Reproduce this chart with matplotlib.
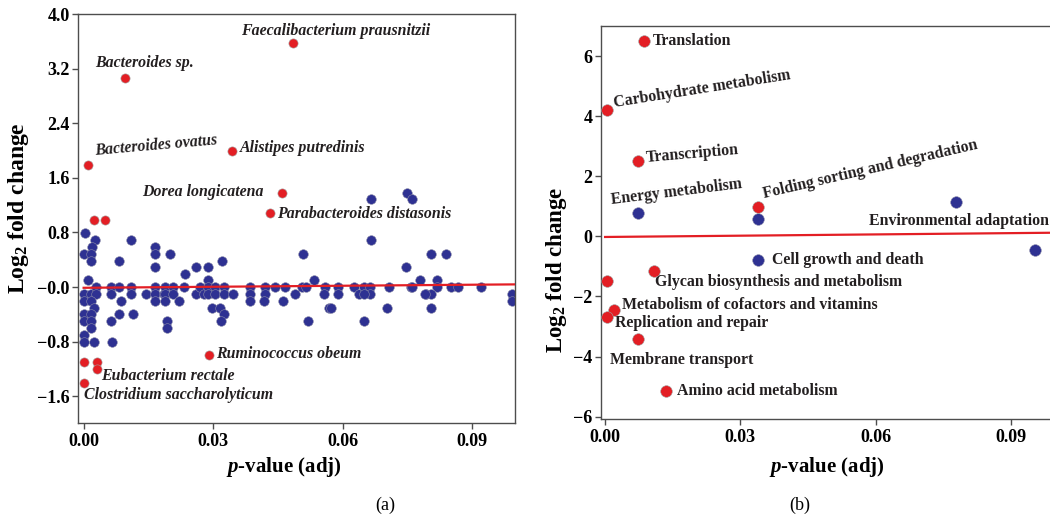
import matplotlib
matplotlib.use("Agg")
from matplotlib import pyplot as plt

plt.rcParams["font.family"] = ["Liberation Serif", "DejaVu Serif"]
plt.rcParams["mathtext.fontset"] = "custom"
plt.rcParams["mathtext.rm"] = "Liberation Serif:bold"
plt.rcParams["mathtext.it"] = "Liberation Serif:italic:bold"
plt.rcParams["mathtext.bf"] = "Liberation Serif:bold"

RED = "#e31e24"
BLUE = "#2e3192"

# ---- panel (a): species ----
blue_a_p = [0.0004, 0.0026, 0.0019, 0.0001, 0.0017, 0.0017, 0.0011, 0.0001, 0.0017, 0.0029,
            0.0029, 0.0001, 0.0017, 0.0025, 0.0001, 0.0017, 0.0001, 0.0017, 0.0017, 0.0001,
            0.0001, 0.0025, 0.0063, 0.0063, 0.0083, 0.0087, 0.0083, 0.0063, 0.0066, 0.0081,
            0.0110, 0.0110, 0.0110, 0.0114, 0.0145, 0.0166, 0.0166, 0.0166, 0.0166, 0.0166,
            0.0166, 0.0185, 0.0199, 0.0189, 0.0189, 0.0189, 0.0207, 0.0207, 0.0220, 0.0194,
            0.0194, 0.0235, 0.0233, 0.0261, 0.0289, 0.0289, 0.0320, 0.0261, 0.0270, 0.0278,
            0.0289, 0.0289, 0.0305, 0.0305, 0.0324, 0.0324, 0.0347, 0.0297, 0.0315, 0.0324,
            0.0318, 0.0507, 0.0386, 0.0386, 0.0386, 0.0421, 0.0421, 0.0417, 0.0444, 0.0467,
            0.0461, 0.0490, 0.0506, 0.0514, 0.0534, 0.0560, 0.0556, 0.0569, 0.0520, 0.0666,
            0.0748, 0.0761, 0.0666, 0.0746, 0.0780, 0.0589, 0.0589, 0.0626, 0.0637, 0.0649,
            0.0664, 0.0664, 0.0649, 0.0707, 0.0757, 0.0703, 0.0649, 0.0572, 0.0804, 0.0840,
            0.0819, 0.0819, 0.0792, 0.0804, 0.0804, 0.0850, 0.0866, 0.0920, 0.0992, 0.0992,
            0.0761, 0.0790]
blue_a_v = [0.79, 0.69, 0.59, 0.49, 0.49, 0.38, 0.10, -0.10, -0.10, 0.00,
            -0.10, -0.20, -0.20, -0.30, -0.39, -0.39, -0.50, -0.50, -0.60, -0.70,
            -0.80, -0.80, 0.00, -0.10, 0.00, -0.20, 0.38, -0.50, -0.80, -0.39,
            0.69, 0.00, -0.10, -0.39, -0.10, 0.59, 0.49, 0.30, 0.00, -0.10,
            -0.20, -0.10, 0.49, 0.00, -0.10, -0.20, 0.00, -0.10, -0.20, -0.50,
            -0.60, 0.19, 0.00, 0.30, 0.30, 0.10, 0.38, -0.10, 0.00, -0.10,
            0.00, -0.10, 0.00, -0.10, 0.00, -0.10, -0.10, -0.30, -0.30, -0.39,
            -0.50, 0.49, 0.00, -0.10, -0.20, 0.00, -0.10, -0.20, 0.00, 0.00,
            -0.20, -0.10, 0.00, 0.00, 0.10, 0.00, -0.10, -0.30, -0.50, 1.29,
            1.385, 1.29, 0.69, 0.30, 0.10, 0.00, -0.10, 0.00, -0.10, 0.00,
            0.00, -0.10, -0.10, 0.00, 0.00, -0.30, -0.50, -0.30, 0.49, 0.49,
            0.10, 0.00, -0.10, -0.10, -0.30, 0.00, 0.00, 0.00, -0.10, -0.20,
            0.00, -0.10]

red_a_p = [0.0485, 0.0096, 0.0009, 0.0343, 0.0459, 0.0432, 0.0024, 0.0049,
           0.0291, 0.0001, 0.0032, 0.0032, 0.0001]
red_a_v = [3.58, 3.07, 1.79, 1.99, 1.38, 1.09, 0.99, 0.99,
           -0.99, -1.10, -1.10, -1.20, -1.40]
red_a_names = ["Faecalibacterium prausnitzii", "Bacteroides sp.", "Bacteroides ovatus",
               "Alistipes putredinis", "Dorea longicatena", "Parabacteroides distasonis",
               "", "", "Ruminococcus obeum", "", "", "Eubacterium rectale",
               "Clostridium saccharolyticum"]
# label placement (offset in pixels, rotation, alignment)
red_a_lab = [(-52, -12, 0, "left"), (-30, -15, 0, "left"), (7, -14, 5, "left"),
             (8, -3, 0, "left"), (-18, -1, 0, "right"), (7, 1, 0, "left"),
             None, None, (7, -1, 0, "left"), None, None, (4, 7, 0, "left"),
             (0, 12, 0, "left")]

fit_a_p = [0.0, 0.0999]
fit_a_v = [-0.01, 0.04]

yticks_a = [4.0, 3.2, 2.4, 1.6, 0.8, 0.0, -0.8, -1.6]
ytick_labels_a = ["4.0", "3.2", "2.4", "1.6", "0.8", "\u22120.0", "\u22120.8", "\u22121.6"]
xticks = [0.0, 0.03, 0.06, 0.09]
xtick_labels = ["0.00", "0.03", "0.06", "0.09"]

# ---- panel (b): pathways ----
red_b_p = [0.0087, 0.0004, 0.0074, 0.0340, 0.0108, 0.0005, 0.0020, 0.0005, 0.0074, 0.0136]
red_b_v = [6.51, 4.21, 2.51, 0.99, -1.14, -1.50, -2.44, -2.69, -3.42, -5.15]
red_b_names = ["Translation", "Carbohydrate metabolism", "Transcription",
               "Folding sorting and degradation", "Glycan biosynthesis and metabolism", "",
               "Metabolism of cofactors and vitamins", "Replication and repair",
               "Membrane transport", "Amino acid metabolism"]
red_b_lab = [(9, 0, 0, "left"), (7, -7, 9, "left"), (8, -3, 5, "left"),
             (5, -12, 13, "left"), (1, 11, 0, "left"), None, (8, -5, 0, "left"),
             (8, 6, 0, "left"), (-28, 21, 0, "left"), (11, 0, 0, "left")]

blue_b_p = [0.0074, 0.0340, 0.0340, 0.0779, 0.0954]
blue_b_v = [0.79, 0.58, -0.78, 1.14, -0.45]
blue_b_names = ["Energy metabolism", "", "Cell growth and death", "Environmental adaptation", ""]
blue_b_lab = [(-27, -13, 7, "left"), None, (14, 0, 0, "left"), (3, 19, 0, "center"), None]

fit_b_p = [0.0, 0.0987]
fit_b_v = [-0.02, 0.12]

yticks_b = [6, 4, 2, 0, -2, -4, -6]
ytick_labels_b = ["6", "4", "2", "0", "\u22122", "\u22124", "\u22126"]


def style_axes(ax):
    for s in ax.spines.values():
        s.set_color("#4d4d4d")
        s.set_linewidth(1.0)
    ax.tick_params(direction="out", length=4, width=1, color="#4d4d4d", labelsize=13)
    ax.tick_params(axis="y", pad=2)
    for lab in ax.get_xticklabels() + ax.get_yticklabels():
        lab.set_fontweight("bold")
    ax.xaxis.label.set_va("center")
    ax.yaxis.label.set_va("center")


def label_points(ax, ps, vs, names, placements, italic):
    for p, v, name, pl in zip(ps, vs, names, placements):
        if pl is None:
            continue
        dx, dy, rot, ha = pl
        ax.annotate(name, (p, v), xytext=(dx * 0.72, -dy * 0.72), textcoords="offset points",
                    ha=ha, va="center", rotation=rot, rotation_mode="anchor",
                    fontsize=11.4, fontweight="bold",
                    fontstyle="italic" if italic else "normal", color="#231f20")


fig = plt.figure(figsize=(10.5, 5.19), dpi=100)

ax1 = fig.add_axes([0.0743, 0.185, 0.4162, 0.788])
ax1.plot(fit_a_p, fit_a_v, color=RED, lw=1.6, zorder=3)
ax1.scatter(blue_a_p, blue_a_v, s=48, color=BLUE, edgecolors="#8a8aa8", linewidths=0.4, zorder=2)
ax1.scatter(red_a_p, red_a_v, s=44, color=RED, edgecolors="#a0a0a0", linewidths=0.4, zorder=4)
label_points(ax1, red_a_p, red_a_v, red_a_names, red_a_lab, True)
ax1.set_xlim(-0.0013, 0.0999)
ax1.set_ylim(-1.99, 3.99)
ax1.set_xticks(xticks)
ax1.set_xticklabels(xtick_labels)
ax1.set_yticks(yticks_a)
ax1.set_yticklabels(ytick_labels_a)
ax1.set_xlabel(r"$\it{p}$-value (adj)", fontsize=15, fontweight="bold")
ax1.set_ylabel(r"Log$_\mathregular{2}$ fold change", fontsize=17, fontweight="bold")
ax1.xaxis.set_label_coords(0.471, -0.108)
ax1.yaxis.set_label_coords(-0.137, 0.526)
style_axes(ax1)

ax2 = fig.add_axes([0.5724, 0.193, 0.4276, 0.757])
ax2.plot(fit_b_p, fit_b_v, color=RED, lw=1.6, zorder=3)
ax2.scatter(blue_b_p, blue_b_v, s=70, color=BLUE, edgecolors="#8a8aa8", linewidths=0.4, zorder=2)
ax2.scatter(red_b_p, red_b_v, s=70, color=RED, edgecolors="#a0a0a0", linewidths=0.4, zorder=4)
label_points(ax2, red_b_p, red_b_v, red_b_names, red_b_lab, False)
label_points(ax2, blue_b_p, blue_b_v, blue_b_names, blue_b_lab, False)
ax2.set_xlim(-0.0009, 0.0987)
ax2.set_ylim(-6.07, 7.0)
ax2.set_xticks(xticks)
ax2.set_xticklabels(xtick_labels)
ax2.set_yticks(yticks_b)
ax2.set_yticklabels(ytick_labels_b)
ax2.set_xlabel(r"$\it{p}$-value (adj)", fontsize=15, fontweight="bold")
ax2.set_ylabel(r"Log$_\mathregular{2}$ fold change", fontsize=16.5, fontweight="bold")
ax2.xaxis.set_label_coords(0.503, -0.122)
ax2.yaxis.set_label_coords(-0.1, 0.38)
ax2.spines["right"].set_visible(False)
style_axes(ax2)

fig.text(385 / 1050, 1 - 505 / 519, "(a)", ha="center", va="center", fontsize=13)
fig.text(800 / 1050, 1 - 505 / 519, "(b)", ha="center", va="center", fontsize=13)

fig.savefig("out.png", dpi=100)
